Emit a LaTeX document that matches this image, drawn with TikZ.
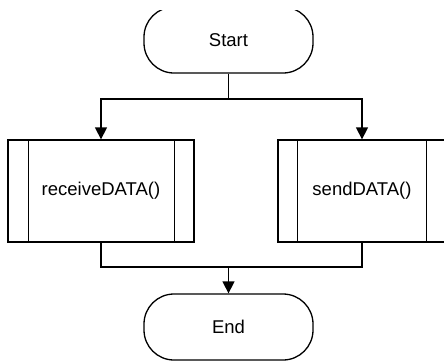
\documentclass[tikz,border=0pt]{standalone}
\usepackage{fontspec}
\setmainfont{Liberation Sans}
\usetikzlibrary{arrows.meta}
\begin{document}
\begin{tikzpicture}[x=1pt,y=-1pt, line width=1.3pt,
  term/.style={draw, rounded corners=30pt, minimum width=169pt, minimum height=66pt, inner sep=0pt},
  subbox/.style={draw, minimum height=102pt, inner sep=0pt},
  lbl/.style={font=\fontsize{18.5}{20}\selectfont},
  arr/.style={-{Triangle[length=12pt,width=12pt]}}]
\useasboundingbox (0,0) rectangle (444,360);
\clip (0,10) rectangle (444,360);
\node[term,lbl] (start) at (228.5,40) {Start};
\node[subbox,lbl,minimum width=186pt] (recv) at (101,191) {receiveDATA()};
\node[subbox,lbl,minimum width=168pt] (send) at (362,191) {sendDATA()};
\node[term,lbl] (end) at (228.5,327) {End};
\draw ([xshift=21pt]recv.north west) -- ([xshift=21pt]recv.south west);
\draw ([xshift=-20pt]recv.north east) -- ([xshift=-20pt]recv.south east);
\draw ([xshift=20pt]send.north west) -- ([xshift=20pt]send.south west);
\draw ([xshift=-20pt]send.north east) -- ([xshift=-20pt]send.south east);
\coordinate (split) at (228.5,99);
\coordinate (merge) at (228.5,267);
\draw (start.south) -- (split);
\draw[arr] (split) -| (recv.north);
\draw[arr] (split) -| (send.north);
\draw (recv.south) |- (merge);
\draw (send.south) |- (merge);
\draw[arr] (merge) -- (end.north);
\end{tikzpicture}
\end{document}
